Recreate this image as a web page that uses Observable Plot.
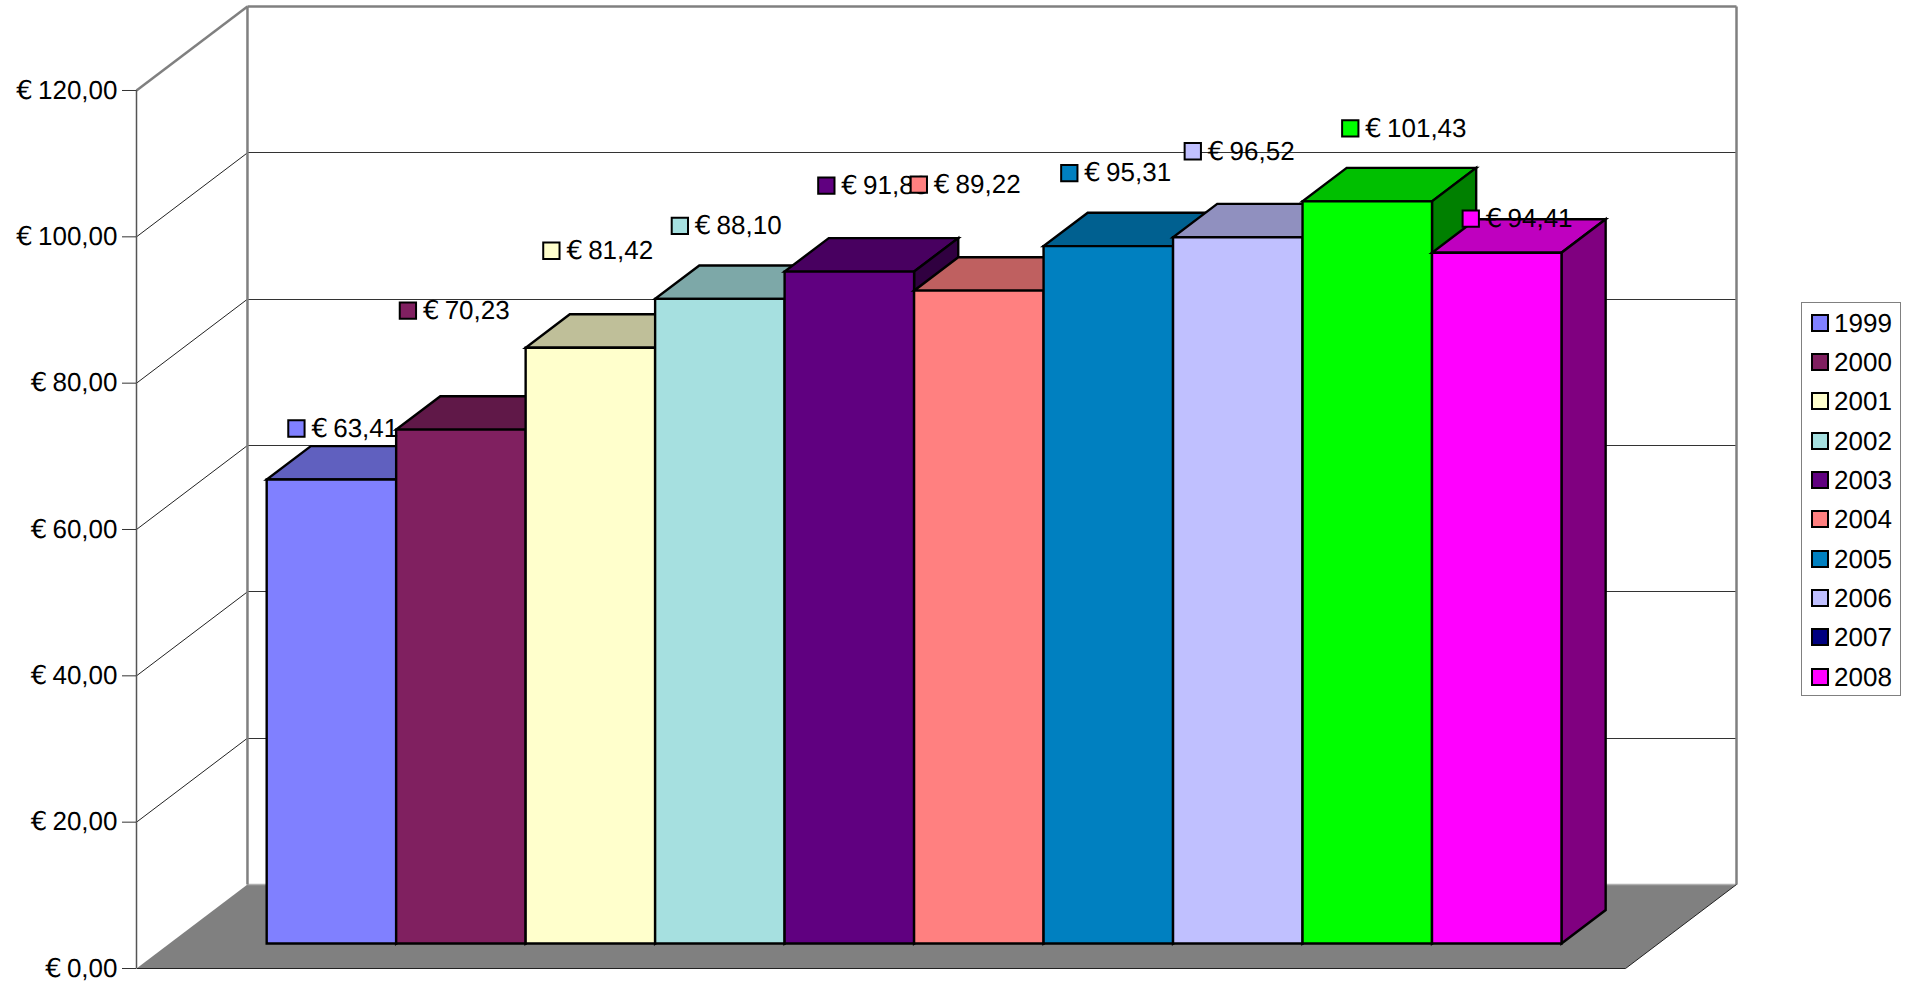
<!doctype html>
<html><head><meta charset="utf-8">
<script src="https://cdn.jsdelivr.net/npm/d3@7"></script>
<script src="https://cdn.jsdelivr.net/npm/@observablehq/plot@0.6"></script>
<style>
@font-face{font-family:"EuroGlyph";src:local("DejaVu Sans");unicode-range:U+20AC}
html,body{margin:0;padding:0;background:#fff;overflow:hidden}
#wrap{position:relative;width:1914px;height:984px;font-family:"Liberation Sans",Arial,sans-serif;text-rendering:geometricPrecision}
svg text{text-rendering:geometricPrecision}
#legend{position:absolute;left:1801px;top:302px;width:100px;height:394px;border:1.5px solid #808080;box-sizing:border-box;background:#fff}
#legend div{position:absolute;left:32px;font-size:26px;line-height:30px;height:30px;color:#000}
#legend i{position:absolute;left:9px;width:14px;height:14px;border:2px solid #000;box-sizing:content-box}
</style></head><body><div id="wrap"><div id="chart"></div><div id="legend"></div></div>
<script>
const years = ["1999","2000","2001","2002","2003","2004","2005","2006","2007","2008"];
const prices = [63.41,70.23,81.42,88.10,91.83,89.22,95.31,96.52,101.43,94.41];
const barColors = ["#8080ff","#802060","#ffffcc","#a6e0e0","#600080","#ff8080","#0080c0","#c0c0ff","#00ff00","#ff00ff"];
const legendColors = ["#8080ff","#802060","#ffffcc","#a6e0e0","#600080","#ff8080","#0080c0","#c0c0ff","#000080","#ff00ff"];
const axisTicks = [0,20,40,60,80,100,120];
const gridTicks = [20,40,60,80,100];
// hand placement of each value label, relative to the top centre of its bar
const labelNudgeX = [-35,-53,-39,-40,-23,-60,-39,-45,-17,-26];
const labelNudgeY = [-51,-119,-97,-73,-86,-106,-73,-86,-73,-34];

// oblique projection: u = category position, w = depth (0 front, 1 back), v = euros
const depthU = 0.857, depthV = 11.48;
const uMin = -0.75, uMax = 10.75, vMax = 120;
const barFront = 0.298, barBack = 0.696;
const P = (u,w,v) => ({x:u+w*depthU, y:v+w*depthV});
const shade = (c,k) => { const r=d3.rgb(c); return d3.rgb(r.r*k,r.g*k,r.b*k).formatHex(); };

const poly = (id,fill,pts) => pts.map(p => ({id,fill,...p}));
const faces = prices.flatMap((v,i) => {
  const c = barColors[i];
  return [
    ...poly(`t${i}`, shade(c,.75), [P(i,barFront,v),P(i+1,barFront,v),P(i+1,barBack,v),P(i,barBack,v)]),
    ...poly(`s${i}`, shade(c,.5), [P(i+1,barFront,0),P(i+1,barFront,v),P(i+1,barBack,v),P(i+1,barBack,0)]),
    ...poly(`f${i}`, c, [P(i,barFront,0),P(i+1,barFront,0),P(i+1,barFront,v),P(i,barFront,v)])
  ];
});
const floor = [P(uMin,0,0),P(uMax,0,0),P(uMax,1,0),P(uMin,1,0)];
const seg = (a,b) => ({x1:a.x,y1:a.y,x2:b.x,y2:b.y});

const wallDiagonals = gridTicks.map(v => seg(P(uMin,0,v),P(uMin,1,v)));
const wallLines = gridTicks.map(v => seg(P(uMin,1,v),P(uMax,1,v)));
const frame = [seg(P(uMin,1,0),P(uMin,1,vMax)), seg(P(uMin,1,vMax),P(uMax,1,vMax)), seg(P(uMax,1,vMax),P(uMax,1,0)), seg(P(uMin,0,vMax),P(uMin,1,vMax))];
const floorBack = [seg(P(uMin,1,0),P(uMax,1,0))];
const floorEdges = [seg(P(uMin,0,0),P(uMax,0,0)), seg(P(uMax,0,0),P(uMax,1,0))];
const euro = v => "€\u2009" + v.toFixed(2).replace(".",",");
const links = (d,o) => Plot.link(d,{x1:"x1",y1:"y1",x2:"x2",y2:"y2",...o});

const labelMarks = prices.flatMap((v,i) => {
  const row = [{...P(i+.5,barFront,v),t:euro(v),c:barColors[i]}];
  return [
    Plot.text(row,{x:"x",y:"y",text:"t",dx:labelNudgeX[i]+15,dy:labelNudgeY[i],textAnchor:"start",lineAnchor:"middle",fill:"#000",fontSize:26}),
    Plot.dot(row,{x:"x",y:"y",symbol:"square",r:9.2,fill:"c",stroke:"#000",strokeWidth:2,dx:labelNudgeX[i],dy:labelNudgeY[i]})
  ];
});

const chart = Plot.plot({
  width:1914,height:984,marginLeft:136,marginRight:178,marginTop:6,marginBottom:16,
  style:{background:"#fff",fontFamily:'"EuroGlyph","Liberation Sans",Arial,sans-serif',fontSize:"26px",color:"#000"},
  x:{domain:[uMin,uMax+depthU],axis:null},
  y:{domain:[0,vMax+depthV],axis:null},
  marks:[
    Plot.line(floor,{x:"x",y:"y",curve:"linear-closed",fill:"#808080",stroke:"none"}),
    links(wallDiagonals,{stroke:"#222",strokeWidth:1}),
    links(wallLines,{stroke:"#333",strokeWidth:1,shapeRendering:"crispEdges"}),
    links(floorBack,{stroke:"#b0b0b0",strokeWidth:1.5}),
    links(frame,{stroke:"#808080",strokeWidth:2.5}),
    links(floorEdges,{stroke:"#222",strokeWidth:1}),
    Plot.ruleX([uMin],{y1:0,y2:vMax,stroke:"#555",strokeWidth:1.5}),
    Plot.axisY({anchor:"left",ticks:axisTicks,tickSize:14,tickPadding:5,tickFormat:euro,stroke:"#333",fill:"#000",fontSize:26,label:null}),
    Plot.line(faces,{x:"x",y:"y",z:"id",fill:"fill",stroke:"#000",strokeWidth:2.4,strokeLinejoin:"miter",strokeMiterlimit:4,curve:"linear-closed"}),
    ...labelMarks
  ]
});
document.getElementById("chart").appendChild(chart);

const legend = document.getElementById("legend");
years.forEach((y,i) => {
  const top = 4.5 + i*39.37;
  const row = document.createElement("div");
  row.style.top = top+"px";
  row.textContent = y;
  legend.appendChild(row);
  const s = document.createElement("i");
  s.style.top = (top+6)+"px";
  s.style.background = legendColors[i];
  legend.appendChild(s);
});
</script></body></html>
